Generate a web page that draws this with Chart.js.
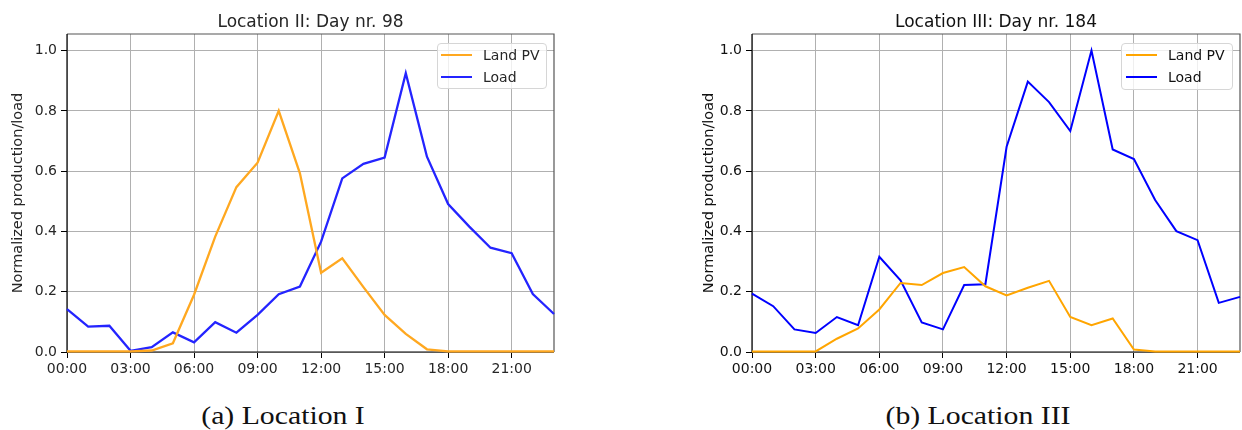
<!DOCTYPE html>
<html><head><meta charset="utf-8">
<script src="https://cdn.jsdelivr.net/npm/chart.js@4.4.1/dist/chart.umd.min.js"></script>
<style>
body{margin:0;background:#fff;width:1242px;height:430px;overflow:hidden;position:relative;font-family:"DejaVu Sans",sans-serif;}
canvas{position:absolute;top:0;}
.title{position:absolute;font-size:17px;line-height:20px;white-space:nowrap;transform:translateX(-50%);}
.legend{position:absolute;border:1px solid #d6d6d6;border-radius:4px;background:rgba(255,255,255,0.8);font-size:14px;box-sizing:border-box;}
.sw{position:absolute;height:2px;}
.lt{position:absolute;white-space:nowrap;line-height:16px;}
.cap{position:absolute;font-family:"Liberation Serif",serif;font-size:25px;line-height:30px;white-space:nowrap;transform:translateX(-50%) scaleX(1.19);color:#111;}
</style></head>
<body>
<canvas id="c1" width="600" height="390" style="left:0px;width:600px;height:390px"></canvas>
<canvas id="c2" width="552" height="390" style="left:690px;width:552px;height:390px"></canvas>
<script>
// ---- data ----
const hours = [0,1,2,3,4,5,6,7,8,9,10,11,12,13,14,15,16,17,18,19,20,21,22,23];
const tickHours = [0,3,6,9,12,15,18,21];
const tickLabels = ['00:00','03:00','06:00','09:00','12:00','15:00','18:00','21:00'];
const yTicks = [0.0,0.2,0.4,0.6,0.8,1.0];
const seriesNames = ['Land PV','Load'];
const titles = ['Location II: Day nr. 98','Location III: Day nr. 184'];
const captions = ['(a) Location I','(b) Location III'];
const yLabel = 'Normalized production/load';

const loc2PV   = [0.002,0.002,0.002,0.002,0.005,0.029,0.19,0.383,0.547,0.628,0.80,0.593,0.263,0.311,0.215,0.123,0.06,0.009,0.002,0.002,0.002,0.002,0.002,0.002];
const loc2Load = [0.142,0.084,0.087,0.004,0.016,0.065,0.032,0.099,0.064,0.123,0.192,0.217,0.366,0.576,0.624,0.645,0.925,0.648,0.491,0.416,0.346,0.328,0.192,0.126];
const loc3PV   = [0.002,0.002,0.002,0.002,0.044,0.078,0.141,0.229,0.222,0.262,0.282,0.218,0.188,0.213,0.236,0.116,0.089,0.111,0.008,0.002,0.002,0.002,0.002,0.002];
const loc3Load = [0.194,0.152,0.075,0.063,0.116,0.089,0.316,0.238,0.098,0.075,0.222,0.225,0.681,0.897,0.829,0.733,1.0,0.672,0.640,0.504,0.401,0.371,0.163,0.183];

const colors = ['#ffa500','#0000ff'];

const spines = {
  id:'spines',
  beforeDatasetsDraw(chart){
    const {ctx, chartArea:a} = chart;
    ctx.save();
    ctx.lineWidth = 1.2;
    ctx.strokeStyle = '#555';
    ctx.beginPath();
    ctx.moveTo(a.left, a.top); ctx.lineTo(a.right, a.top); ctx.lineTo(a.right, a.bottom);
    ctx.stroke();
    ctx.strokeStyle = '#000';
    ctx.beginPath();
    ctx.moveTo(a.left, a.top); ctx.lineTo(a.left, a.bottom); ctx.lineTo(a.right, a.bottom);
    ctx.stroke();
    ctx.restore();
  }
};

function makeChart(id, cfg){
  const el = document.getElementById(id);
  const W = el.width, H = el.height;
  const font = {family:'"DejaVu Sans", sans-serif', size:14};
  return new Chart(el, {
    type:'line',
    data:{datasets: cfg.series.map((vals,k)=>({
      label: seriesNames[k],
      data: hours.map((h,i)=>({x:h, y:vals[i]})),
      borderColor: cfg.colors[k],
      borderWidth: cfg.lw,
      pointRadius:0, tension:0, clip:false, fill:false
    }))},
    options:{
      responsive:false, animation:false, events:[],
      layout:{padding:{left:0, top:cfg.top, right:W-cfg.right, bottom:0}},
      plugins:{legend:{display:false}, title:{display:false}, tooltip:{enabled:false}},
      scales:{
        x:{type:'linear', min:0, max:23,
           afterBuildTicks:s=>{s.ticks = tickHours.map(v=>({value:v}));},
           afterFit:s=>{s.height = H-cfg.bottom;},
           ticks:{callback:(v)=>tickLabels[tickHours.indexOf(v)], color:cfg.text, font, padding:3, maxRotation:0, autoSkip:false},
           grid:{color:'#b0b0b0', lineWidth:1, tickLength:6, tickColor:'#000', tickWidth:1},
           border:{display:false}},
        y:{min:0, max:1.055,
           afterBuildTicks:s=>{s.ticks = yTicks.map(v=>({value:v}));},
           afterFit:s=>{s.width = cfg.left;},
           ticks:{callback:(v)=>v.toFixed(1), color:cfg.text, font, padding:4},
           title:{display:true, text:yLabel, color:cfg.text, font:{family:font.family, size:14.5}, padding:{top:cfg.lblPad, bottom:0}},
           grid:{color:'#b0b0b0', lineWidth:1, tickLength:6, tickColor:'#000', tickWidth:1},
           border:{display:false}}
      }
    },
    plugins:[spines]
  });
}

makeChart('c1', {series:[loc2PV, loc2Load], colors:['#ffa820','#2424ff'], lw:2.3, text:'#262626',
  left:67, right:554, top:34, bottom:352, lblPad:9.5});
makeChart('c2', {series:[loc3PV, loc3Load], colors:colors, lw:2, text:'#111',
  left:62, right:550, top:34, bottom:352, lblPad:10.5});

// titles, legends, captions (HTML text)
function addDiv(cls, text, style){
  const d = document.createElement('div');
  d.className = cls; if(text!==null) d.textContent = text;
  Object.assign(d.style, style); document.body.appendChild(d); return d;
}
addDiv('title', titles[0], {left:'310.5px', top:'11px', color:'#262626'});
addDiv('title', titles[1], {left:'996px', top:'11px', color:'#111'});

function legend(x, y, w, h, sampleX, textX, cols, textColor){
  const lg = addDiv('legend', null, {left:x+'px', top:y+'px', width:w+'px', height:h+'px'});
  seriesNames.forEach((n,k)=>{
    const cy = 11 + k*22;
    const s = document.createElement('div'); s.className='sw';
    Object.assign(s.style,{left:sampleX+'px', top:(cy-1)+'px', width:'31px', background:cols[k]});
    lg.appendChild(s);
    const t = document.createElement('div'); t.className='lt'; t.textContent = n;
    Object.assign(t.style,{left:textX+'px', top:(cy-8)+'px', color:textColor});
    lg.appendChild(t);
  });
}
legend(437, 43, 110, 46, 3, 45, ['#ffa820','#2424ff'], '#262626');
legend(1121, 43, 112, 47, 4, 46, colors, '#111');

addDiv('cap', captions[0], {left:'283px', top:'401px'});
addDiv('cap', captions[1], {left:'978px', top:'401px'});
</script>
</body></html>
